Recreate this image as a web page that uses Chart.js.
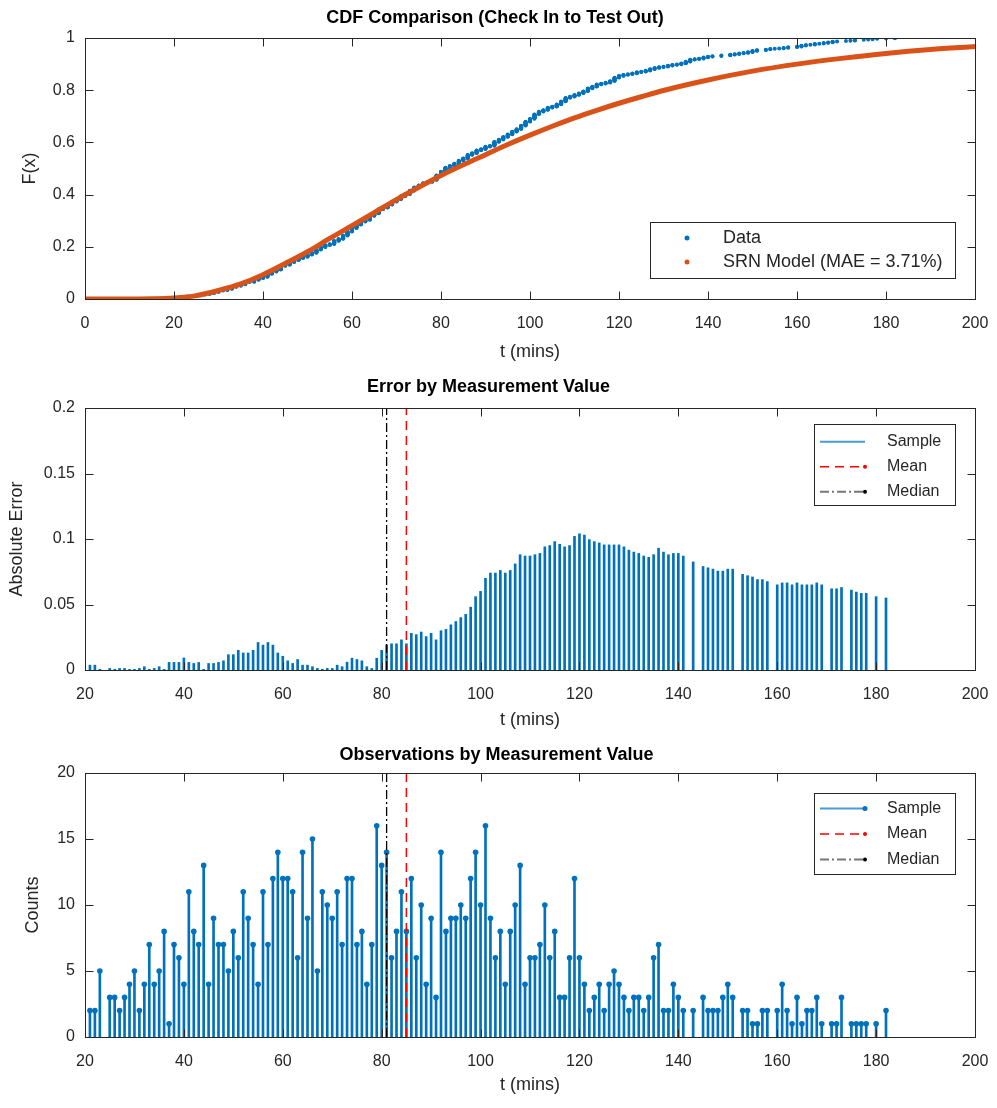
<!DOCTYPE html>
<html>
<head>
<meta charset="utf-8">
<script src="https://cdn.jsdelivr.net/npm/chart.js@4.4.0/dist/chart.umd.min.js"></script>
<style>
  body { margin: 0; background: #fff; }
  .panel { position: absolute; left: 0; width: 997px; }
  canvas { display: block; }
</style>
</head>
<body>
<div class="panel" style="top:0px;height:367px"><canvas id="chart-cdf" width="997" height="367" style="width:997px;height:367px"></canvas></div>
<div class="panel" style="top:367px;height:368px"><canvas id="chart-erro" width="997" height="368" style="width:997px;height:368px"></canvas></div>
<div class="panel" style="top:735px;height:365px"><canvas id="chart-obs" width="997" height="365" style="width:997px;height:365px"></canvas></div>
<script>
const tempos = [
  21, 22, 23, 25, 26, 27, 28, 29, 30,
  31, 32, 33, 34, 35, 36, 37, 38, 39, 40,
  41, 42, 43, 44, 45, 46, 47, 48, 49, 50,
  51, 52, 53, 54, 55, 56, 57, 58, 59, 60,
  61, 62, 63, 64, 65, 66, 67, 68, 69, 70,
  71, 72, 73, 74, 75, 76, 77, 78, 79, 80,
  81, 82, 83, 84, 85, 86, 87, 88, 89, 90,
  91, 92, 93, 94, 95, 96, 97, 98, 99, 100,
  101, 102, 103, 104, 105, 106, 107, 108, 109, 110,
  111, 112, 113, 114, 115, 116, 117, 118, 119, 120,
  121, 122, 123, 124, 125, 126, 127, 128, 129, 130,
  131, 132, 133, 134, 135, 136, 137, 138, 139, 140,
  141, 143, 145, 146, 147, 148, 149, 150, 151,
  153, 154, 155, 156, 157, 158,
  160, 161, 162, 163, 164, 165, 166, 167, 168, 169,
  171, 172, 173, 175, 176, 177, 178, 180, 182
];

const contagens = [
  2, 2, 5, 3, 3, 2, 3, 4, 5,
  2, 4, 7, 4, 5, 8, 1, 7, 6, 4,
  11, 8, 7, 13, 4, 9, 7, 7, 5, 8,
  6, 11, 9, 7, 4, 11, 7, 12, 14, 12,
  12, 11, 6, 14, 9, 15, 5, 11, 10, 9,
  11, 7, 12, 12, 7, 8, 4, 7, 16, 13,
  14, 6, 8, 11, 8, 12, 6, 10, 4, 9,
  3, 14, 8, 9, 9, 10, 9, 12, 14, 10,
  16, 9, 6, 8, 4, 8, 10, 13, 4, 6,
  6, 7, 10, 6, 8, 3, 3, 6, 12, 6,
  4, 2, 3, 4, 2, 4, 5, 4, 3, 2,
  3, 3, 2, 3, 6, 7, 2, 2, 4, 3,
  2, 2, 3, 2, 2, 2, 3, 4, 3,
  2, 2, 1, 1, 2, 2,
  2, 4, 2, 1, 3, 1, 2, 2, 3, 1,
  1, 1, 3, 1, 1, 1, 1, 1, 2
];

const erros = [
  0.0037, 0.0037, 0.0005, 0.0012, 0.0005, 0.0012, 0.0012, 0.0005, 0.0005,
  0.0012, 0.0025, 0.0005, 0.0012, 0.0025, 0.0005, 0.0058, 0.0058, 0.0058, 0.0092,
  0.0058, 0.005, 0.0058, 0.0005, 0.005, 0.005, 0.0058, 0.007, 0.0117, 0.0117,
  0.015, 0.013, 0.013, 0.015, 0.021, 0.019, 0.021, 0.019, 0.013, 0.0105,
  0.007, 0.005, 0.008, 0.0037, 0.0037, 0.0025, 0.0012, 0.0005, 0.0012, 0.0012,
  0.0037, 0.0025, 0.006, 0.009, 0.008, 0.007, 0.0025, 0.0012, 0.009, 0.015,
  0.019, 0.02, 0.02, 0.023, 0.02, 0.028, 0.027, 0.029, 0.0255, 0.028,
  0.023, 0.03, 0.031, 0.0345, 0.037, 0.040, 0.0425, 0.048, 0.056, 0.060,
  0.070, 0.074, 0.074, 0.076, 0.074, 0.076, 0.081, 0.088, 0.087, 0.087,
  0.088, 0.089, 0.094, 0.095, 0.098, 0.096, 0.094, 0.095, 0.102, 0.104,
  0.103, 0.0995, 0.098, 0.097, 0.0955, 0.0955, 0.0955, 0.0955, 0.094, 0.0915,
  0.090, 0.089, 0.087, 0.086, 0.088, 0.093, 0.090, 0.088, 0.089, 0.089,
  0.087, 0.0825, 0.079, 0.078, 0.077, 0.0755, 0.0755, 0.077, 0.077,
  0.073, 0.072, 0.071, 0.069, 0.069, 0.0675,
  0.065, 0.0665, 0.0665, 0.065, 0.0665, 0.065, 0.065, 0.065, 0.0665, 0.065,
  0.062, 0.062, 0.063, 0.061, 0.0595, 0.0585, 0.0585, 0.056, 0.055
];

// SRN model CDF (orange curve)
const modeloT = [0, 5, 10, 15, 20, 25, 30, 35, 40, 45, 50, 55, 60, 65, 70, 75, 80, 85, 90, 95,
  100, 105, 110, 115, 120, 125, 130, 140, 150, 160, 170, 180, 190, 200];
const modeloF = [0, 0, 0.0002, 0.001, 0.004, 0.013, 0.033, 0.058, 0.093, 0.136, 0.181, 0.232,
  0.281, 0.331, 0.381, 0.428, 0.473, 0.514, 0.553, 0.592, 0.628, 0.662, 0.694, 0.723, 0.750,
  0.775, 0.799, 0.839, 0.873, 0.900, 0.922, 0.941, 0.956, 0.967];

const MEDIA = 85;
const MEDIANA = 81;

const AZUL = "#0072BD";
const LARANJA = "#D95319";
const EIXO = "#262626";
const FONTE = '"Liberation Sans", Arial, Helvetica, sans-serif';

Chart.defaults.font.family = FONTE;
Chart.defaults.color = EIXO;

// empirical CDF: one point per observation (stacks at repeated times)
const totalObs = contagens.reduce((s, c) => s + c, 0);
const pontosEcdf = [];
let acumulado = 0;
tempos.forEach((t, i) => {
  for (let k = 1; k <= contagens[i]; k++) {
    pontosEcdf.push({ x: t, y: (acumulado + k) / totalObs });
  }
  acumulado += contagens[i];
});

// MATLAB-like box with inward ticks on all four sides
const caixaPlugin = {
  id: "caixa",
  afterDraw(chart) {
    const { ctx, chartArea: a, scales } = chart;
    const L = Math.round(a.left) + 0.5, R = Math.round(a.right) + 0.5;
    const T = Math.round(a.top) + 0.5, B = Math.round(a.bottom) + 0.5;
    ctx.save();
    ctx.strokeStyle = EIXO;
    ctx.lineWidth = 1;
    ctx.setLineDash([]);
    ctx.strokeRect(L, T, R - L, B - T);
    ctx.beginPath();
    scales.x.ticks.forEach(tk => {
      const px = Math.round(scales.x.getPixelForValue(tk.value)) + 0.5;
      ctx.moveTo(px, B); ctx.lineTo(px, B - 8);
      ctx.moveTo(px, T); ctx.lineTo(px, T + 8);
    });
    scales.y.ticks.forEach(tk => {
      const py = Math.round(scales.y.getPixelForValue(tk.value)) + 0.5;
      ctx.moveTo(L, py); ctx.lineTo(L + 8, py);
      ctx.moveTo(R, py); ctx.lineTo(R - 8, py);
    });
    ctx.stroke();
    ctx.restore();
  }
};

function legendaPlugin(caixa, itens) {
  return {
    id: "legendaMatlab",
    afterDraw(chart) {
      const ctx = chart.ctx;
      ctx.save();
      ctx.fillStyle = "#fff";
      ctx.fillRect(caixa.x, caixa.y, caixa.w, caixa.h);
      ctx.strokeStyle = EIXO;
      ctx.lineWidth = 1;
      ctx.setLineDash([]);
      ctx.strokeRect(caixa.x + 0.5, caixa.y + 0.5, caixa.w, caixa.h);
      ctx.font = caixa.fonte + "px " + FONTE;
      ctx.textBaseline = "middle";
      itens.forEach((it, i) => {
        const y = caixa.y + caixa.linha0 + i * caixa.passo;
        if (it.linha) {
          ctx.strokeStyle = it.cor;
          ctx.lineWidth = it.largura || 1.5;
          ctx.setLineDash(it.traco || []);
          ctx.beginPath();
          ctx.moveTo(caixa.x1, y);
          ctx.lineTo(caixa.x2, y);
          ctx.stroke();
          ctx.setLineDash([]);
        }
        if (it.ponto) {
          ctx.fillStyle = it.corPonto || it.cor;
          ctx.beginPath();
          ctx.arc(it.linha ? caixa.x2 : caixa.xp, y, it.raio || 2.5, 0, Math.PI * 2);
          ctx.fill();
        }
        ctx.fillStyle = EIXO;
        ctx.fillText(it.texto, caixa.xt, y);
      });
      ctx.restore();
    }
  };
}

function fmt(v) {
  return String(+Number(v).toFixed(3));
}

function eixos(cfg) {
  return {
    x: {
      type: "linear",
      min: cfg.xmin, max: 200, offset: false,
      grid: { display: false, drawTicks: false },
      border: { display: false },
      ticks: { stepSize: 20, padding: 15, font: { size: 16 }, color: EIXO, maxRotation: 0, autoSkip: false },
      title: { display: true, text: "t (mins)", font: { size: 18 }, color: EIXO, padding: { top: 4, bottom: 4 } },
      afterFit: s => {
        s.height = cfg.alturaX;
        s.paddingLeft = 0;
        s.paddingRight = 0;
      }
    },
    y: {
      type: "linear",
      min: 0, max: cfg.ymax,
      grid: { display: false, drawTicks: false },
      border: { display: false },
      ticks: { stepSize: cfg.passoY, padding: 10, font: { size: 16 }, color: EIXO, callback: fmt },
      title: { display: true, text: cfg.rotuloY, font: { size: 18 }, color: EIXO, padding: { top: 4, bottom: 4 } },
      afterFit: s => {
        s.width = 85 - cfg.padEsq;
        s.paddingTop = 0;
        s.paddingBottom = 0;
      }
    }
  };
}

function opcoesBase(cfg) {
  return {
    responsive: false,
    animation: false,
    events: [],
    layout: { padding: { left: cfg.padEsq, right: 22, top: 0, bottom: 0 } },
    plugins: {
      legend: { display: false },
      tooltip: { enabled: false },
      title: {
        display: true, text: cfg.titulo, color: "#000",
        font: { size: 18, weight: "bold" },
        padding: { top: cfg.tituloTopo, bottom: cfg.tituloBase }
      }
    },
    scales: eixos(cfg)
  };
}

// 1) CDF comparison
new Chart(document.getElementById("chart-cdf").getContext("2d"), {
  type: "scatter",
  data: {
    datasets: [
      {
        label: "Data",
        data: pontosEcdf,
        pointRadius: 2,
        pointBackgroundColor: AZUL,
        pointBorderWidth: 0,
        showLine: false,
        order: 2
      },
      {
        type: "line",
        label: "SRN Model (MAE = 3.71%)",
        data: modeloT.map((t, i) => ({ x: t, y: modeloF[i] })),
        borderColor: LARANJA,
        borderWidth: 5,
        pointRadius: 0,
        cubicInterpolationMode: "monotone",
        order: 1
      }
    ]
  },
  options: opcoesBase({
    titulo: "CDF Comparison (Check In to Test Out)", tituloTopo: 7, tituloBase: 9.4,
    xmin: 0, ymax: 1, passoY: 0.2, rotuloY: "F(x)", padEsq: 15, alturaX: 68
  }),
  plugins: [caixaPlugin, legendaPlugin(
    { x: 650, y: 222, w: 305, h: 56, linha0: 16, passo: 24, xp: 687, xt: 723, fonte: 18 },
    [
      { texto: "Data", ponto: true, cor: AZUL, raio: 2.5 },
      { texto: "SRN Model (MAE = 3.71%)", ponto: true, cor: LARANJA, raio: 2.5 }
    ]
  )]
});

function linhaVertical(x, ymax, cor, traco, largura) {
  return {
    type: "line",
    data: [{ x: x, y: 0 }, { x: x, y: ymax }],
    borderColor: cor,
    borderDash: traco,
    borderWidth: largura,
    pointRadius: 0,
    order: 0
  };
}

// 2) Error by measurement value
new Chart(document.getElementById("chart-erro").getContext("2d"), {
  type: "bar",
  data: {
    datasets: [
      {
        label: "Sample",
        data: tempos.map((t, i) => ({ x: t, y: erros[i] })),
        backgroundColor: AZUL,
        borderWidth: 0,
        barThickness: 2,
        order: 3
      },
      linhaVertical(MEDIA, 0.2, "#FF0000", [9, 6], 1.5),
      linhaVertical(MEDIANA, 0.2, "#000000", [9, 3, 2, 3], 1.3)
    ]
  },
  options: opcoesBase({
    titulo: "Error by Measurement Value", tituloTopo: 9.2, tituloBase: 10.2,
    xmin: 20, ymax: 0.2, passoY: 0.05, rotuloY: "Absolute Error", padEsq: 2, alturaX: 65
  }),
  plugins: [caixaPlugin, legendaPlugin(
    { x: 814, y: 57, w: 141, h: 81, linha0: 17.7, passo: 25, x1: 820, x2: 865, xt: 887, fonte: 16 },
    [
      { texto: "Sample", linha: true, cor: "#4A9AD4", largura: 2 },
      { texto: "Mean", linha: true, cor: "#FF0000", traco: [9, 6], ponto: true, raio: 2 },
      { texto: "Median", linha: true, cor: "#777777", corPonto: "#000", traco: [9, 3, 2, 3], largura: 2, ponto: true, raio: 2 }
    ]
  )]
});

// 3) Observations by measurement value
new Chart(document.getElementById("chart-obs").getContext("2d"), {
  type: "bar",
  data: {
    datasets: [
      {
        label: "Sample",
        data: tempos.map((t, i) => ({ x: t, y: contagens[i] })),
        backgroundColor: AZUL,
        borderWidth: 0,
        barThickness: 2,
        order: 3
      },
      {
        type: "scatter",
        data: tempos.map((t, i) => ({ x: t, y: contagens[i] })),
        pointRadius: 2.8,
        pointBackgroundColor: AZUL,
        pointBorderWidth: 0,
        showLine: false,
        order: 2
      },
      linhaVertical(MEDIA, 20, "#FF0000", [9, 6], 1.5),
      linhaVertical(MEDIANA, 20, "#000000", [9, 3, 2, 3], 1.3)
    ]
  },
  options: opcoesBase({
    titulo: "Observations by Measurement Value", tituloTopo: 9.2, tituloBase: 7.2,
    xmin: 20, ymax: 20, passoY: 5, rotuloY: "Counts", padEsq: 18, alturaX: 63
  }),
  plugins: [caixaPlugin, legendaPlugin(
    { x: 814, y: 58, w: 141, h: 81, linha0: 15.5, passo: 25.5, x1: 820, x2: 865, xt: 887, fonte: 16 },
    [
      { texto: "Sample", linha: true, cor: "#4A9AD4", largura: 2, ponto: true, corPonto: AZUL, raio: 2.5 },
      { texto: "Mean", linha: true, cor: "#FF0000", traco: [9, 6], ponto: true, raio: 2 },
      { texto: "Median", linha: true, cor: "#777777", corPonto: "#000", traco: [9, 3, 2, 3], largura: 2, ponto: true, raio: 2 }
    ]
  )]
});
</script>
</body>
</html>
